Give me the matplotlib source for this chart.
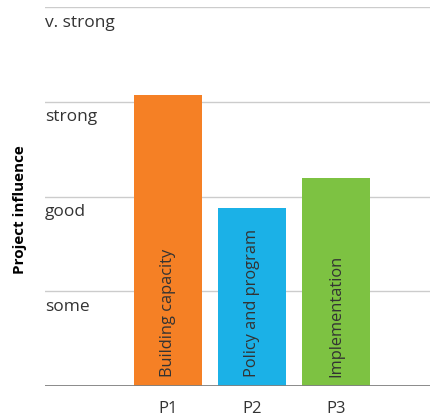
import matplotlib
matplotlib.use("Agg")
import matplotlib.pyplot as plt

categories = ["P1", "P2", "P3"]
values = [3.07, 1.88, 2.19]
bar_labels = ["Building capacity", "Policy and program", "Implementation"]
colors = ["#F58025", "#1BB1E7", "#7DC242"]
level_labels = ["some", "good", "strong", "v. strong"]
level_values = [1, 2, 3, 4]

plt.rcParams['font.family'] = ['Open Sans', 'DejaVu Sans']

W, H = 431, 417
fig = plt.figure(figsize=(W/100, H/100), dpi=100)
ax = fig.add_axes([45/W, (H-386)/H, 1-45/W, (386-7)/H])

x = list(range(len(categories)))
ax.bar(x, values, width=0.81, color=colors, zorder=3)
for xi, lab in zip(x, bar_labels):
    ax.text(xi, 0.1, lab, rotation=90, ha='center', va='bottom',
            fontsize=11.8, color='#333333', zorder=4)

for v, lab in zip(level_values, level_labels):
    ax.axhline(v, color='#cccccc', lw=1, zorder=1)
    ax.text(0, v - 0.08, lab, transform=ax.get_yaxis_transform(),
            ha='left', va='top', fontsize=12.5, color='#333333')
ax.axhline(0, color='#808080', lw=2, zorder=5)

ax.set_xlim(-1.464, 3.13)
ax.set_ylim(0, 4)
ax.set_xticks(x)
ax.set_xticklabels(categories, fontsize=12, color='#333333')
ax.tick_params(axis='x', length=0, pad=11)
ax.set_yticks([])
for s in ax.spines.values():
    s.set_visible(False)

fig.text(20/W, 1-210/H, "Project influence", rotation=90, ha='center', va='center',
         fontsize=11, fontweight='bold', color='black')

fig.savefig("out.png", dpi=100)
